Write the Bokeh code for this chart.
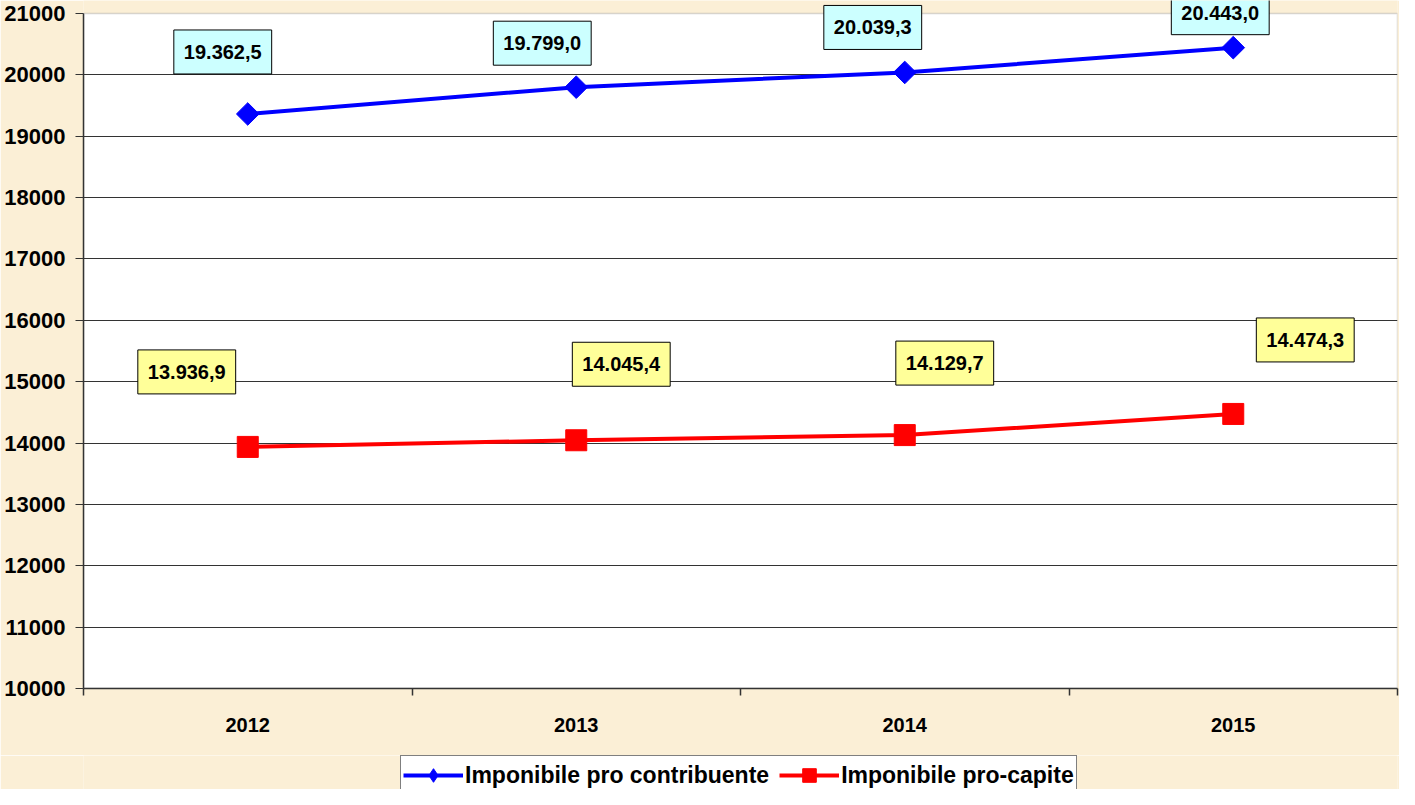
import math
from bokeh.plotting import figure
from bokeh.layouts import column
from bokeh.models import ColumnDataSource, FixedTicker, Legend, LegendItem, BoxAnnotation, Range1d
from bokeh.core.properties import value
from bokeh.embed import file_html
from bokeh.resources import INLINE

# ---- data ----
years = ["2012", "2013", "2014", "2015"]
contribuente = [19362.5, 19799.0, 20039.3, 20443.0]
pro_capite = [13936.9, 14045.4, 14129.7, 14474.3]
contribuente_labels = ["19.362,5", "19.799,0", "20.039,3", "20.443,0"]
pro_capite_labels = ["13.936,9", "14.045,4", "14.129,7", "14.474,3"]
y_ticks = [10000, 11000, 12000, 13000, 14000, 15000, 16000, 17000, 18000, 19000, 20000, 21000]
series_names = ["Imponibile pro contribuente", "Imponibile pro-capite"]

# label box offsets (screen px, relative to the point)
blue_dx = [-25, -34, -32, -13]
blue_dy = [62, 44, 45, 35]
red_dx = [-61, 45, 40, 72]
red_dy = [75, 76, 72, 74]

xs = list(range(1, len(years) + 1))
FONT = "Liberation Sans"
BG = "#FBEFD6"
BLUE = "#0000FF"
RED = "#FF0000"

# layout (pixels)
PLOT_H = 675      # height of the white plot area
TOP_PAD = 13      # room above the plot area for the data labels
y_lo, y_hi = y_ticks[0], y_ticks[-1]
y_top = y_hi + TOP_PAD * (y_hi - y_lo) / PLOT_H

p = figure(width=1399, height=755, x_range=(0.5, len(years) + 0.5),
           y_range=(y_lo, y_top),
           output_backend="svg", toolbar_location=None,
           min_border_left=83, min_border_top=0, min_border_right=2, min_border_bottom=67)
p.border_fill_color = BG
p.background_fill_color = BG
p.outline_line_color = None

# white plot area with grey border
p.add_layout(BoxAnnotation(bottom=y_lo, top=y_hi, fill_color="white", fill_alpha=1,
                           line_color="#808080", line_width=1.5, level="image"))

# axes
p.xaxis.ticker = FixedTicker(ticks=xs, minor_ticks=[x - 0.5 for x in xs] + [xs[-1] + 0.5])
p.xaxis.major_label_overrides = {x: y for x, y in zip(xs, years)}
p.xaxis.major_tick_out = 0
p.xaxis.major_tick_in = 0
p.xaxis.minor_tick_out = 7
p.xaxis.minor_tick_in = 0
p.xaxis.minor_tick_line_color = "#333333"
p.xaxis.minor_tick_line_width = 1.5
p.xaxis.axis_line_color = "#333333"
p.xaxis.axis_line_width = 1.5
p.xaxis.major_label_standoff = 22
p.xaxis.major_label_text_font = FONT
p.xaxis.major_label_text_font_style = "bold"
p.xaxis.major_label_text_font_size = "20px"
p.xaxis.major_label_text_color = "black"

p.yaxis.ticker = FixedTicker(ticks=y_ticks, minor_ticks=[])
p.yaxis.bounds = (y_lo, y_hi)
p.yaxis.major_tick_out = 8
p.yaxis.major_tick_in = 0
p.yaxis.major_tick_line_color = "#333333"
p.yaxis.axis_line_color = "#333333"
p.yaxis.axis_line_width = 1.5
p.yaxis.major_label_standoff = 10
p.yaxis.major_label_text_font = FONT
p.yaxis.major_label_text_font_style = "bold"
p.yaxis.major_label_text_font_size = "22px"
p.yaxis.major_label_text_color = "black"

p.xgrid.grid_line_color = None
p.ygrid.ticker = FixedTicker(ticks=y_ticks[:-1])
p.ygrid.grid_line_color = "#333333"
p.ygrid.grid_line_width = 1

# series
src_b = ColumnDataSource(dict(x=xs, y=contribuente, t=contribuente_labels, dx=blue_dx,
                              dy=[-d for d in blue_dy]))
src_r = ColumnDataSource(dict(x=xs, y=pro_capite, t=pro_capite_labels, dx=red_dx,
                              dy=[-d for d in red_dy]))

p.line("x", "y", source=src_b, line_color=BLUE, line_width=4)
p.scatter("x", "y", source=src_b, marker="square", angle=math.pi / 4, size=16,
          fill_color=BLUE, line_color=BLUE)
p.line("x", "y", source=src_r, line_color=RED, line_width=4)
p.scatter("x", "y", source=src_r, marker="square", size=21,
          fill_color=RED, line_color=RED)

for src, fill in ((src_b, "#CCFFFF"), (src_r, "#FFFF99")):
    p.text("x", "y", text="t", source=src, x_offset="dx", y_offset="dy",
           anchor="center", text_align="center", text_baseline="middle",
           text_font=value(FONT), text_font_style="bold", text_font_size="20px",
           text_color="black", padding=dict(left=10, right=10, top=15, bottom=15),
           background_fill_color=fill, border_line_color="black", border_line_width=1)

# ---- legend strip below the chart (series glyphs kept out of its view) ----
lg = figure(width=1399, height=34, x_axis_type=None, y_axis_type=None,
            x_range=Range1d(-1, 0), y_range=Range1d(-1, 0),
            output_backend="svg", toolbar_location=None,
            min_border_left=83, min_border_right=2, min_border_top=0, min_border_bottom=0)
lg.border_fill_color = BG
lg.background_fill_color = BG
lg.outline_line_color = None
lg.grid.visible = False

klb = lg.line("x", "y", source=src_b, line_color=BLUE, line_width=4)
kmb = lg.scatter("x", "y", source=src_b, marker="diamond", size=16, fill_color=BLUE, line_color=BLUE)
klr = lg.line("x", "y", source=src_r, line_color=RED, line_width=4)
kmr = lg.scatter("x", "y", source=src_r, marker="square", size=16, fill_color=RED, line_color=RED)

legend = Legend(items=[
    LegendItem(label=series_names[0], renderers=[klb, kmb]),
    LegendItem(label=series_names[1], renderers=[klr, kmr]),
], orientation="horizontal", location=(317, -6), margin=0, padding=2,
    spacing=10, glyph_width=60, glyph_height=34, label_standoff=2,
    label_text_font=FONT, label_text_font_style="bold", label_text_font_size="23px",
    label_text_color="black", border_line_color="black", border_line_width=1.5,
    background_fill_color="white", background_fill_alpha=1)
lg.add_layout(legend, "center")

layout = column(p, lg, spacing=0)
open("out.html", "w").write(file_html(layout, INLINE))
